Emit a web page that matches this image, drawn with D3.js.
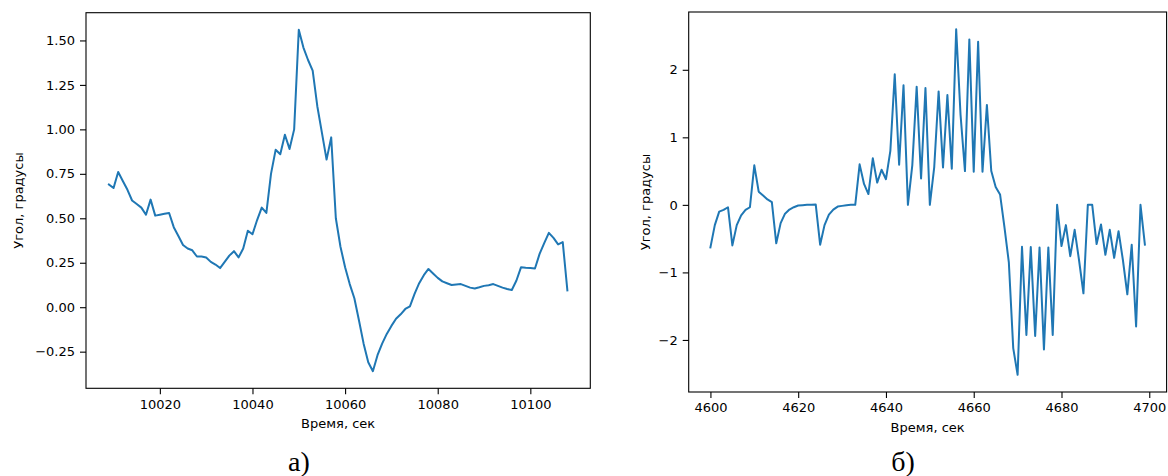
<!DOCTYPE html>
<html>
<head>
<meta charset="utf-8">
<script src="https://cdn.jsdelivr.net/npm/d3@7"></script>
<style>
  html, body { margin: 0; padding: 0; background: #fff; }
  svg { display: block; }
  text { font-family: "DejaVu Sans", sans-serif; fill: #000; }
</style>
</head>
<body>
<svg id="chart" width="1168" height="476"></svg>
<script>
// ---- Data: panel а) ----
const timeA = [10009,10010,10011,10012,10013,10014,10015,10016,10017,10018,
  10019,10020,10021,10022,10023,10024,10025,10026,10027,10028,
  10029,10030,10031,10032,10033,10034,10035,10036,10037,10038,
  10039,10040,10041,10042,10043,10044,10045,10046,10047,10048,
  10049,10050,10051,10052,10053,10054,10055,10056,10057,10058,
  10059,10060,10061,10062,10063,10064,10065,10066,10067,10068,
  10069,10070,10071,10072,10073,10074,10075,10076,10077,10078,
  10079,10080,10081,10082,10083,10084,10085,10086,10087,10088,
  10089,10090,10091,10092,10093,10094,10095,10096,10097,10098,
  10099,10100,10101,10102,10103,10104,10105,10106,10107,10108];
const angleA = [0.69,0.67,0.76,0.71,0.66,0.60,0.58,0.56,0.52,0.605,
  0.515,0.52,0.525,0.53,0.45,0.40,0.35,0.33,0.32,0.285,
  0.285,0.28,0.255,0.24,0.22,0.255,0.29,0.315,0.28,0.33,
  0.43,0.41,0.49,0.56,0.53,0.75,0.885,0.86,0.97,0.89,
  1.00,1.56,1.46,1.39,1.33,1.13,0.98,0.83,0.955,0.50,
  0.34,0.225,0.13,0.05,-0.075,-0.205,-0.31,-0.36,-0.27,-0.205,
  -0.15,-0.105,-0.065,-0.04,-0.01,0.005,0.075,0.135,0.18,0.215,
  0.19,0.165,0.145,0.135,0.125,0.128,0.13,0.12,0.11,0.105,
  0.112,0.12,0.124,0.13,0.12,0.11,0.102,0.097,0.15,0.225,
  0.222,0.22,0.218,0.30,0.36,0.418,0.39,0.353,0.366,0.095];
const xTicksA = [10020,10040,10060,10080,10100];
const yTicksA = [-0.25,0.00,0.25,0.50,0.75,1.00,1.25,1.50];

// ---- Data: panel б) ----
const timeB = [4600,4601,4602,4603,4604,4605,4606,4607,4608,4609,
  4610,4611,4612,4613,4614,4615,4616,4617,4618,4619,
  4620,4621,4622,4623,4624,4625,4626,4627,4628,4629,
  4630,4631,4632,4633,4634,4635,4636,4637,4638,4639,
  4640,4641,4642,4643,4644,4645,4646,4647,4648,4649,
  4650,4651,4652,4653,4654,4655,4656,4657,4658,4659,
  4660,4661,4662,4663,4664,4665,4666,4667,4668,4669,
  4670,4671,4672,4673,4674,4675,4676,4677,4678,4679,
  4680,4681,4682,4683,4684,4685,4686,4687,4688,4689,
  4690,4691,4692,4693,4694,4695,4696,4697,4698,4699];
const angleB = [-0.63,-0.30,-0.10,-0.075,-0.035,-0.60,-0.30,-0.155,-0.075,-0.035,
  0.585,0.196,0.14,0.08,0.04,-0.57,-0.27,-0.13,-0.07,-0.035,
  -0.01,-0.005,0,0,0.005,-0.59,-0.30,-0.145,-0.07,-0.025,
  -0.015,-0.005,0,0,0.60,0.31,0.16,0.69,0.33,0.52,
  0.38,0.80,1.935,0.595,1.77,0.0,0.585,1.75,0.39,1.73,
  0.0,0.56,1.68,0.555,1.625,0.535,2.60,1.33,0.50,2.45,
  0.49,2.415,0.49,1.48,0.50,0.265,0.155,-0.33,-0.85,-2.12,
  -2.515,-0.62,-1.925,-0.625,-1.94,-0.63,-2.14,-0.63,-1.925,0.0,
  -0.61,-0.30,-0.76,-0.37,-0.82,-1.31,0.0,0.0,-0.58,-0.29,
  -0.74,-0.37,-0.785,-0.39,-0.82,-1.325,-0.59,-1.80,0.0,-0.59];
const xTicksB = [4600,4620,4640,4660,4680,4700];
const yTicksB = [-2,-1,0,1,2];

const xLabel = "Время, сек";
const yLabel = "Угол, градусы";
const captions = ["а)", "б)"];

// ---- Drawing ----
const svg = d3.select("#chart");
const minus = s => s.replace("-", "\u2212");

function padded(ext) {
  const m = (ext[1] - ext[0]) * 0.05;
  return [ext[0] - m, ext[1] + m];
}

function panel(cfg) {
  const { xs, ys, box, xTicks, yTicks, yFmt, yLabelX, xLabelY, caption } = cfg;
  const x = d3.scaleLinear().domain(padded(d3.extent(xs))).range([box.l, box.r]);
  const y = d3.scaleLinear().domain(padded(d3.extent(ys))).range([box.b, box.t]);
  const g = svg.append("g");

  const xa = g.append("g").attr("transform", `translate(0,${box.b})`)
    .call(d3.axisBottom(x).tickValues(xTicks).tickFormat(d3.format("d")).tickSize(6).tickPadding(5));
  const ya = g.append("g").attr("transform", `translate(${box.l},0)`)
    .call(d3.axisLeft(y).tickValues(yTicks).tickFormat(d => minus(yFmt(d))).tickSize(6).tickPadding(5));
  [xa, ya].forEach(a => {
    a.select(".domain").remove();
    a.selectAll(".tick line").attr("stroke", "#000").attr("stroke-width", 1.1);
    a.selectAll(".tick text").attr("font-size", 13).attr("font-family", "DejaVu Sans").attr("fill", "#000");
  });

  const line = d3.line().x((d, i) => x(xs[i])).y(d => y(d));
  g.append("path").datum(ys)
    .attr("d", line)
    .attr("fill", "none")
    .attr("stroke", "#1f77b4")
    .attr("stroke-width", 2)
    .attr("stroke-linejoin", "round")
    .attr("stroke-linecap", "square");

  g.append("rect")
    .attr("x", box.l).attr("y", box.t)
    .attr("width", box.r - box.l).attr("height", box.b - box.t)
    .attr("fill", "none").attr("stroke", "#000").attr("stroke-width", 1.1);

  g.append("text")
    .attr("x", (box.l + box.r) / 2).attr("y", xLabelY)
    .attr("text-anchor", "middle").attr("font-size", 13)
    .text(xLabel);

  g.append("text")
    .attr("transform", `translate(${yLabelX},${(box.t + box.b) / 2}) rotate(-90)`)
    .attr("text-anchor", "middle").attr("dy", "0.35em").attr("font-size", 13)
    .text(yLabel);

  g.append("text")
    .attr("x", caption.x).attr("y", caption.y)
    .attr("text-anchor", "middle")
    .attr("font-size", 28)
    .style("font-family", "'Liberation Serif', serif")
    .text(caption.text);
}

panel({
  xs: timeA, ys: angleA,
  box: { l: 86, r: 590.3, t: 12.7, b: 388.3 },
  xTicks: xTicksA, yTicks: yTicksA, yFmt: d3.format(".2f"),
  yLabelX: 18, xLabelY: 428,
  caption: { text: captions[0], x: 299, y: 471 }
});

panel({
  xs: timeB, ys: angleB,
  box: { l: 688.7, r: 1166.6, t: 12, b: 392 },
  xTicks: xTicksB, yTicks: yTicksB, yFmt: d3.format("d"),
  yLabelX: 645, xLabelY: 432,
  caption: { text: captions[1], x: 903, y: 471 }
});
</script>
</body>
</html>
